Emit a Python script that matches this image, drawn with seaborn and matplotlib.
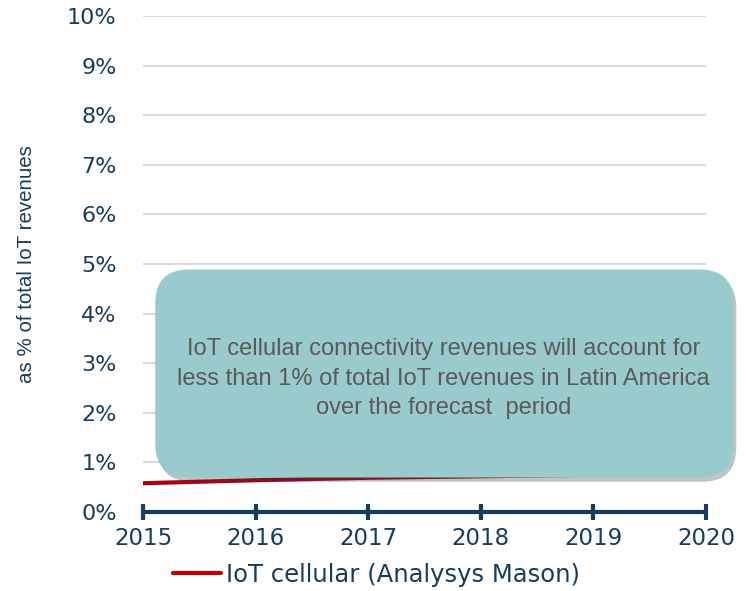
import numpy as np
import pandas as pd
import matplotlib
matplotlib.use("Agg")
import matplotlib.pyplot as plt
import matplotlib.patheffects as pe
from matplotlib.patches import FancyBboxPatch
import seaborn as sns

# data (share of total IoT revenues, %)
years = [2015, 2016, 2017, 2018, 2019, 2020]
cellular_share = [0.58, 0.64, 0.69, 0.72, 0.75, 0.78]
y_ticks = list(range(0, 11))
series_name = "IoT cellular (Analysys Mason)"
note = ("IoT cellular connectivity revenues will account for\n"
        "less than 1% of total IoT revenues in Latin America\n"
        "over the forecast  period")

df = pd.DataFrame({"year": years, "share": cellular_share})

sns.set_style("white")
plt.rcParams["font.family"] = ["DejaVu Sans"]

navy = "#173D5C"

fig = plt.figure(figsize=(7.5, 5.91), dpi=100)
ax = fig.add_axes([0.1907, 0.1337, 0.7506, 0.8393])

sns.lineplot(data=df, x="year", y="share", color="#A8001A", linewidth=3,
             ax=ax, label=series_name, zorder=3)

ax.set_xlim(2015, 2020)
ax.set_ylim(0, 10)
ax.set_yticks(y_ticks)
ax.set_yticklabels([f"{t}%" for t in y_ticks])
ax.set_xticks(years)
ax.set_xticklabels([str(y) for y in years])

for t in y_ticks[1:]:
    ax.axhline(t, color="#D3D3D3", linewidth=1.2, zorder=1)

for s in ["top", "right", "left"]:
    ax.spines[s].set_visible(False)
ax.spines["bottom"].set_color(navy)
ax.spines["bottom"].set_linewidth(3)
ax.spines["bottom"].set_zorder(4)

ax.tick_params(axis="x", bottom=True, direction="inout", length=12, width=3,
               color=navy, labelsize=16.5, labelcolor=navy, pad=5)
ax.tick_params(axis="y", left=False, length=0, labelsize=16, labelcolor=navy, pad=19)

ax.set_xlabel("")
ax.set_ylabel("as % of total IoT revenues", fontsize=14.8, color=navy,
              family=["Liberation Sans", "DejaVu Sans"])
ax.yaxis.set_label_coords(-0.19, 0.5)

leg = ax.legend(loc="center left", bbox_to_anchor=(0.053, -0.127), frameon=False,
                fontsize=17.5, handlelength=2.0, handletextpad=0.2,
                borderpad=0, borderaxespad=0)
for txt in leg.get_texts():
    txt.set_color(navy)
for line in leg.get_lines():
    line.set_color("#C00000")
    line.set_linewidth(3)

# callout box
box = FancyBboxPatch((0.207, 0.192), 0.771, 0.352, transform=fig.transFigure,
                     boxstyle="round,pad=0,rounding_size=0.045",
                     mutation_aspect=750 / 591,
                     facecolor="#99CBCC", edgecolor="none", zorder=5,
                     path_effects=[pe.SimplePatchShadow(offset=(2, -3), alpha=0.3),
                                   pe.Normal()])
fig.patches.append(box)
fig.text(0.591, 0.359, note, ha="center", va="center", fontsize=17,
         color="#5A5A5A", linespacing=1.45, zorder=6,
         family=["Liberation Sans", "DejaVu Sans"])

fig.savefig("out.png", dpi=100)
